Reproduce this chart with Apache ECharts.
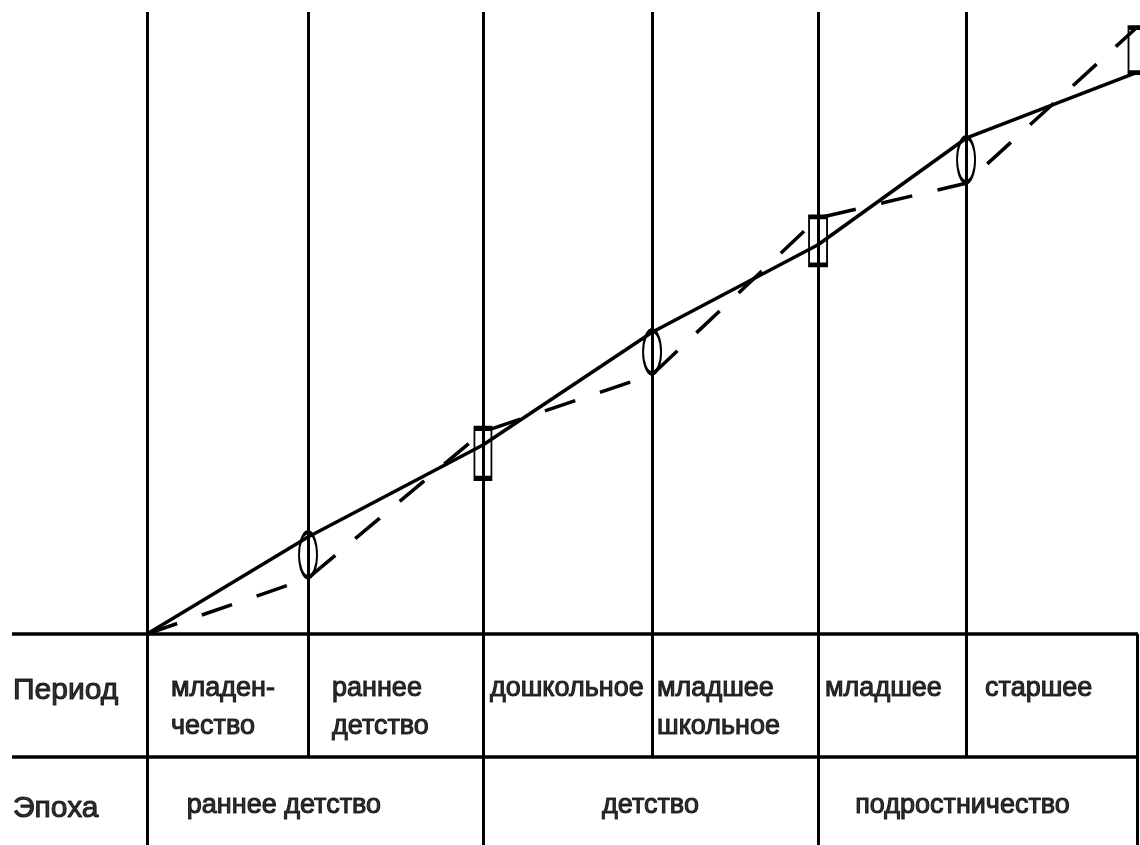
<!DOCTYPE html>
<html>
<head>
<meta charset="utf-8">
<script src="https://cdn.jsdelivr.net/npm/echarts@6/dist/echarts.min.js"></script>
<style>
html,body{margin:0;padding:0;background:#fff;}
#chart{width:1140px;height:845px;}
</style>
</head>
<body>
<div id="chart"></div>
<script>
// ---- data ----
const periodBounds = [0, 0.976, 2.036, 3.061, 4.067, 4.964, 6.0];
const periods = ['младен-\nчество', 'раннее\nдетство', 'дошкольное', 'младшее\nшкольное', 'младшее', 'старшее'];
const epochs = ['раннее детство', 'детство', 'подростничество'];
const epochSpans = [[0, 2], [2, 4], [4, 6]];
const rowHeaders = ['Период', 'Эпоха'];
const solidLine = [0, 15.3, 29.8, 47.6, 61.4, 78.2, 88.6];
const dashedLine = [0, 8.8, 31.9, 40.9, 65.6, 71.1, 95.7];
const crisisLevels = [12.5, 28.5, 44.5, 62.0, 74.8, 92.1];

// ---- layout constants (axis space) ----
const X_MIN = -0.818, X_MAX = 6.006;
const Y_MIN = -33.28, Y_MAX = 100;
const LINE_TOP = 98.1;
const ROW1_BOTTOM = -19.4;
const PERIOD_TEXT_TOP = -5.68;
const EPOCH_TEXT_Y = -27.1;
const HEADER_Y = [-8.9, -27.6];
const HEADER_X = -0.812;

// label placement tweaks (px)
const periodInsets = [24, 24, 7, 5, 7, 19];
const epochOffsets = [-31, 0, -15];

const chart = echarts.init(document.getElementById('chart'), null, {renderer: 'canvas'});

const gridLines = [];
const epochEdges = new Set([0, 2, 4, 6]);
periodBounds.forEach((b, i) => {
  if (i === 6) return;
  const bottom = epochEdges.has(i) ? Y_MIN : ROW1_BOTTOM;
  gridLines.push([{coord: [b, LINE_TOP]}, {coord: [b, bottom]}]);
});
gridLines.push([{coord: [periodBounds[6], Y_MIN]}, {coord: [periodBounds[6], 0]}]);
gridLines.push([{coord: [X_MIN, 0], lineStyle: {width: 3.5}}, {coord: [X_MAX, 0]}]);
gridLines.push([{coord: [X_MIN, ROW1_BOTTOM], lineStyle: {width: 3.5}}, {coord: [X_MAX, ROW1_BOTTOM]}]);

const textFont = {fontFamily: 'Liberation Sans, Arial, sans-serif', color: '#000', textBorderColor: '#000', textBorderWidth: 1.1};

const periodLabels = periods.map((p, i) => ({
  value: [periodBounds[i], PERIOD_TEXT_TOP],
  name: p,
  label: {offset: [periodInsets[i], 0]}
}));
const epochLabels = epochs.map((e, i) => ({
  value: [(periodBounds[epochSpans[i][0]] + periodBounds[epochSpans[i][1]]) / 2, EPOCH_TEXT_Y],
  name: e,
  label: {offset: [epochOffsets[i], 0]}
}));
const headerLabels = rowHeaders.map((h, i) => ({value: [HEADER_X, HEADER_Y[i]], name: h}));

const shapes = ['circle', 'rect', 'circle', 'rect', 'circle', 'rect'];
const shapeSizes = [[18, 45], [17, 50], [18, 43], [18, 48], [18, 45], [17, 45]];
const crisisData = crisisLevels.map((c, i) => ({
  value: [periodBounds[i + 1], c],
  symbol: shapes[i],
  symbolSize: shapeSizes[i]
}));

const option = {
  animation: false,
  backgroundColor: '#fff',
  grid: {left: 12, right: 2, top: 0, bottom: 0},
  xAxis: {type: 'value', min: X_MIN, max: X_MAX, show: false},
  yAxis: {type: 'value', min: Y_MIN, max: Y_MAX, show: false},
  series: [
    {
      type: 'line',
      name: 'grid',
      data: [],
      markLine: {
        silent: true,
        symbol: ['none', 'none'],
        label: {show: false},
        lineStyle: {color: '#000', width: 3, type: 'solid'},
        emphasis: {disabled: true},
        data: gridLines
      }
    },
    {
      type: 'line',
      name: 'solid',
      data: periodBounds.map((b, i) => [b, solidLine[i]]),
      symbol: 'none',
      lineStyle: {color: '#000', width: 3.5},
      z: 3
    },
    {
      type: 'line',
      name: 'dashed',
      data: periodBounds.map((b, i) => [b, dashedLine[i]]),
      symbol: 'none',
      lineStyle: {color: '#000', width: 3.5, type: [32, 26]},
      z: 3
    },
    {
      type: 'scatter',
      name: 'crisis',
      data: crisisData,
      itemStyle: {color: 'rgba(0,0,0,0)', borderColor: '#000', borderWidth: 3, opacity: 1},
      z: 4
    },
    {
      type: 'scatter',
      name: 'periods',
      data: periodLabels,
      symbolSize: 0,
      label: Object.assign({
        show: true, position: 'inside', formatter: p => p.name,
        fontSize: 27, lineHeight: 38, align: 'left', verticalAlign: 'top'
      }, textFont),
      z: 5
    },
    {
      type: 'scatter',
      name: 'epochs',
      data: epochLabels,
      symbolSize: 0,
      label: Object.assign({
        show: true, position: 'inside', formatter: p => p.name,
        fontSize: 27, align: 'center', verticalAlign: 'middle'
      }, textFont),
      z: 5
    },
    {
      type: 'scatter',
      name: 'headers',
      data: headerLabels,
      symbolSize: 0,
      label: Object.assign({
        show: true, position: 'inside', formatter: p => p.name,
        fontSize: 30, align: 'left', verticalAlign: 'middle'
      }, textFont),
      z: 5
    }
  ]
};
chart.setOption(option);
</script>
</body>
</html>
